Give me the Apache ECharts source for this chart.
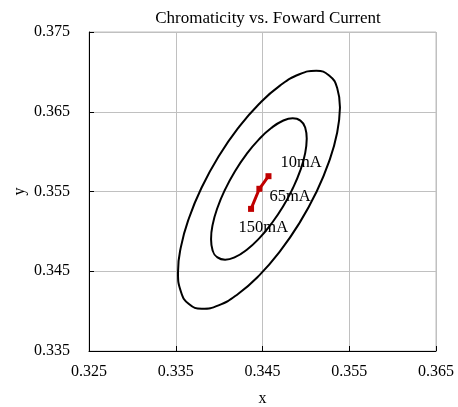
<!DOCTYPE html>
<html>
<head>
<meta charset="utf-8">
<script src="https://cdn.jsdelivr.net/npm/echarts@6/dist/echarts.min.js"></script>
<style>html,body{margin:0;padding:0;background:#fff;}#c{width:458px;height:407px;}</style>
</head>
<body>
<div id="c"></div>
<script>
// ---- data ----
var outerEllipse = [
  [0.35393,0.36554],[0.35361,0.36240],[0.35268,0.35877],[0.35120,0.35490],[0.34926,0.35105],
  [0.34701,0.34749],[0.34460,0.34445],[0.34218,0.34215],[0.33993,0.34072],[0.33800,0.34030],
  [0.33652,0.34089],[0.33559,0.34246],[0.33526,0.34489],[0.33559,0.34803],[0.33652,0.35165],
  [0.33800,0.35553],[0.33993,0.35938],[0.34218,0.36294],[0.34460,0.36598],[0.34701,0.36828],
  [0.34926,0.36970],[0.35120,0.37013],[0.35268,0.36954],[0.35361,0.36797],[0.35393,0.36554]
];
var innerEllipse = [
  [0.35010,0.36163],[0.34992,0.35981],[0.34937,0.35767],[0.34848,0.35538],[0.34735,0.35308],
  [0.34601,0.35094],[0.34459,0.34909],[0.34316,0.34767],[0.34183,0.34676],[0.34069,0.34645],
  [0.33981,0.34674],[0.33925,0.34760],[0.33907,0.34900],[0.33925,0.35082],[0.33981,0.35296],
  [0.34069,0.35525],[0.34183,0.35755],[0.34316,0.35969],[0.34459,0.36154],[0.34601,0.36296],
  [0.34735,0.36387],[0.34848,0.36418],[0.34937,0.36389],[0.34992,0.36303],[0.35010,0.36163]
];
var currentNames = ['10mA','65mA','150mA'];
var currentX = [0.34569, 0.34464, 0.34368];
var currentY = [0.35692, 0.35534, 0.35282];
var xTicks = [0.325,0.335,0.345,0.355,0.365];
var yTicks = [0.335,0.345,0.355,0.365,0.375];

// ---- chart ----
var FONT = 'Liberation Serif';
var labelOffsets = [[12,-14],[10,8],[-12.5,18.5]];
var redData = currentNames.map(function(n,i){
  return {value:[currentX[i],currentY[i]], name:n,
    label:{show:true, formatter:n, position:'inside', align:'left', verticalAlign:'middle',
      offset:labelOffsets[i], color:'#000', fontFamily:FONT, fontSize:16.5}};
});
var chart = echarts.init(document.getElementById('c'));
chart.setOption({
  animation:false,
  backgroundColor:'#fff',
  title:{text:'Chromaticity vs. Foward Current', left:263, top:5, textAlign:'center',
    textStyle:{fontFamily:FONT, fontSize:17, fontWeight:'normal', color:'#000'}},
  grid:{left:89, right:22, top:32, bottom:56, containLabel:false, outerBoundsMode:'none',
    show:true, borderColor:'#bfbfbf', borderWidth:1},
  xAxis:{type:'value', min:xTicks[0], max:xTicks[xTicks.length-1], interval:0.01,
    name:'x', nameLocation:'middle', nameGap:40, nameMoveOverlap:false,
    nameTextStyle:{fontFamily:FONT, fontSize:16, color:'#000'},
    axisLine:{show:true, lineStyle:{color:'#000', width:1}},
    axisTick:{show:true, inside:true, length:5, lineStyle:{color:'#000'}},
    splitLine:{show:true, lineStyle:{color:'#c0c0c0', width:1}},
    axisLabel:{margin:13, fontFamily:FONT, fontSize:16, color:'#000',
      formatter:function(v){return v.toFixed(3);}}},
  yAxis:{type:'value', min:yTicks[0], max:yTicks[yTicks.length-1], interval:0.01,
    name:'y', nameLocation:'middle', nameGap:61, nameMoveOverlap:false,
    nameTextStyle:{fontFamily:FONT, fontSize:16, color:'#000'},
    axisLine:{show:true, lineStyle:{color:'#000', width:1}},
    axisTick:{show:true, inside:true, length:5, lineStyle:{color:'#000'}},
    splitLine:{show:true, lineStyle:{color:'#c0c0c0', width:1}},
    axisLabel:{margin:19, fontFamily:FONT, fontSize:16, color:'#000',
      formatter:function(v){return v.toFixed(3);}}},
  series:[
    {type:'line', data:outerEllipse, smooth:0.5, showSymbol:false, symbol:'none',
      lineStyle:{color:'#000', width:2}, silent:true},
    {type:'line', data:innerEllipse, smooth:0.5, showSymbol:false, symbol:'none',
      lineStyle:{color:'#000', width:2}, silent:true},
    {type:'line', data:redData, symbol:'rect', symbolSize:6,
      itemStyle:{color:'#c00000'}, lineStyle:{color:'#c00000', width:3}, z:5}
  ]
});
</script>
</body>
</html>
